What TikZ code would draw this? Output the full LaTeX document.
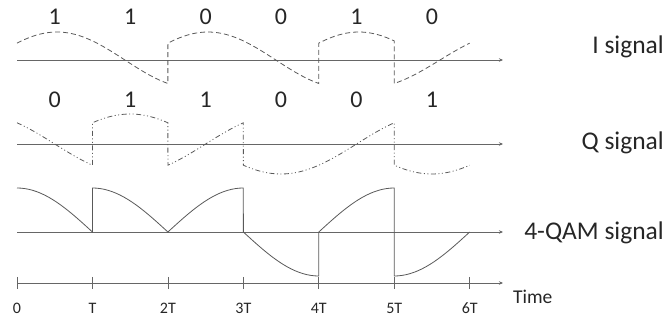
\documentclass[tikz,border=0pt]{standalone}
\usepackage{fontspec}
\setmainfont{Carlito}
\usetikzlibrary{arrows.meta}
\begin{document}
\begin{tikzpicture}[x=1pt,y=-1pt]
\useasboundingbox (0,0) rectangle (667,320);
\def\T{75.45}
\def\xo{17}
\tikzset{
  axisline/.style={draw=black!60, line width=0.8pt, -{Stealth[length=4pt,width=3.5pt]}},
  sig/.style={draw=black!65, line width=0.8pt},
  idash/.style={sig, dash pattern=on 5pt off 3pt},
  qdash/.style={sig, dash pattern=on 5pt off 2.5pt on 1pt off 2.5pt on 1pt off 2.5pt},
  bit/.style={font=\fontsize{24}{27}\selectfont, text=black!85, inner sep=0pt},
  lbl/.style={font=\fontsize{25.5}{29}\selectfont, text=black!85, anchor=east, inner sep=0pt},
  ticklbl/.style={font=\fontsize{16}{18}\selectfont, text=black!85, inner sep=0pt},
  tickmark/.style={draw=black!60, line width=0.8pt}
}
% axes
\coordinate (i0) at (\xo,60);  \coordinate (i1) at (503,60);
\coordinate (q0) at (\xo,144); \coordinate (q1) at (503,144);
\coordinate (m0) at (\xo,232); \coordinate (m1) at (503,232);
\coordinate (t0) at (\xo,283); \coordinate (t1) at (503,283);
\draw[axisline] (i0) -- (i1);
\draw[axisline] (q0) -- (q1);
\draw[axisline] (m0) -- (m1);
\draw[axisline] (t0) -- (t1);
% ticks and labels
\foreach \k/\lab in {0/0,1/T,2/2T,3/3T,4/4T,5/5T,6/6T}{
  \coordinate (tk\k a) at ({\xo+\k*\T},277);
  \coordinate (tk\k b) at ({\xo+\k*\T},289);
  \draw[tickmark] (tk\k a) -- (tk\k b);
  \node[ticklbl] (tl\k) at ({\xo+\k*\T},308) {\lab};
}
\node[font=\fontsize{19.5}{22}\selectfont, text=black!85, anchor=west, inner sep=0pt] (time) at (513,297) {Time};
% right labels
\node[lbl] (ilbl) at (664,47) {I signal};
\node[lbl] (qlbl) at (664,143) {Q signal};
\node[lbl] (mlbl) at (664,233) {4-QAM signal};
% bits
\foreach \k/\b in {0/1,1/1,2/0,3/0,4/1,5/0}{
  \node[bit] (ib\k) at ({\xo+(\k+0.5)*\T},17) {\b};
}
\foreach \k/\b in {0/0,1/1,2/1,3/0,4/0,5/1}{
  \node[bit] (qb\k) at ({\xo+(\k+0.5)*\T},100) {\b};
}
% I signal
\draw[idash]
  plot[domain=0:2,samples=40] ({\xo+\T*\x},{60-28*sin(37+100*\x)})
  -- plot[domain=2:4,samples=40] ({\xo+\T*\x},{60-28*sin(37+100*(\x-2))})
  -- plot[domain=4:5,samples=20] ({\xo+\T*\x},{60-28*sin(37+100*(\x-4))})
  -- plot[domain=5:6,samples=20] ({\xo+\T*\x},{60-28*sin(-57+94*(\x-5))});
% Q signal
\draw[qdash]
  plot[domain=0:1,samples=20] ({\xo+\T*\x},{144-30*sin(135+90*\x)})
  -- plot[domain=1:2,samples=20] ({\xo+\T*\x},{144-30*sin(45+90*(\x-1))})
  -- plot[domain=2:3,samples=20] ({\xo+\T*\x},{144-30*sin(-45+90*(\x-2))})
  -- plot[domain=3:5,samples=40] ({\xo+\T*\x},{144-30*sin(225+90*(\x-3))})
  -- plot[domain=5:6,samples=20] ({\xo+\T*\x},{144-30*sin(225+90*(\x-5))});
% 4-QAM signal
\draw[sig]
  plot[domain=0:1,samples=20] ({\xo+\T*\x},{232-44*cos(90*\x)})
  -- plot[domain=1:2,samples=20] ({\xo+\T*\x},{232-44*cos(90*(\x-1))})
  -- plot[domain=2:3,samples=20] ({\xo+\T*\x},{232-44*sin(90*(\x-2))})
  -- plot[domain=3:4,samples=20] ({\xo+\T*\x},{232+44*sin(90*(\x-3))})
  -- plot[domain=4:5,samples=20] ({\xo+\T*\x},{232-44*sin(90*(\x-4))})
  -- plot[domain=5:6,samples=20] ({\xo+\T*\x},{232+44*cos(90*(\x-5))});
\end{tikzpicture}
\end{document}
